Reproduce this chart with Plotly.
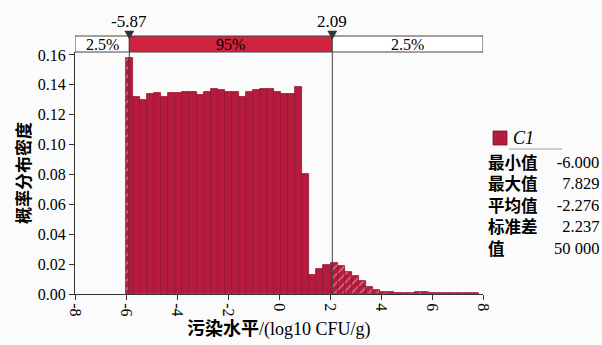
import plotly.graph_objects as go

# ---- data ----
density = [0.158, 0.132, 0.130, 0.134, 0.1345, 0.132, 0.1345, 0.1345, 0.1355, 0.1355,
           0.1335, 0.1355, 0.137, 0.1365, 0.135, 0.135, 0.132, 0.1355, 0.1365, 0.1375,
           0.137, 0.1355, 0.134, 0.134, 0.1388, 0.080, 0.0125, 0.0168, 0.0197, 0.021,
           0.019, 0.0149, 0.0119, 0.0088, 0.0045, 0.0027, 0.0016, 0.0011, 0.0009, 0.0008,
           0.0009, 0.0012, 0.0012, 0.0009, 0.0008, 0.0008, 0.0008, 0.0007, 0.0007, 0.0006]
cut_low, cut_high = -5.87, 2.09
pct_labels = ["2.5%", "95%", "2.5%"]
stat_names = ["最小值", "最大值", "平均值", "标准差", "值"]
stat_values = ["-6.000", "7.829", "-2.276", "2.237", "50 000"]
stat_min, stat_max = -6.000, 7.829
series_name = "C1"
x_ticks = [-8, -6, -4, -2, 0, 2, 4, 6, 8]
y_ticks = [0.00, 0.02, 0.04, 0.06, 0.08, 0.10, 0.12, 0.14, 0.16]

# ---- split bins into inside / outside the 95% interval ----
n = len(density)
w = (stat_max - stat_min) / n
in_x, in_w, in_y, out_x, out_w, out_y = [], [], [], [], [], []
for k, d in enumerate(density):
    a, b = stat_min + k * w, stat_min + (k + 1) * w
    pts = sorted(set([a, b] + [c for c in (cut_low, cut_high) if a < c < b]))
    for s0, s1 in zip(pts[:-1], pts[1:]):
        mid = (s0 + s1) / 2
        if cut_low <= mid <= cut_high:
            in_x.append(mid); in_w.append(s1 - s0); in_y.append(d)
        else:
            out_x.append(mid); out_w.append(s1 - s0); out_y.append(d)

BAR = "#b51b3c"
EDGE = "#98152f"
SERIF = "Liberation Serif, Noto Sans CJK SC"
fig = go.Figure()
fig.add_trace(go.Bar(x=in_x, y=in_y, width=in_w, marker=dict(color=BAR, line=dict(color=EDGE, width=0.8)),
                     showlegend=False))
fig.add_trace(go.Bar(x=out_x, y=out_y, width=out_w,
                     marker=dict(color=BAR, line=dict(color=EDGE, width=0.8),
                                 pattern=dict(shape="/", fgcolor="#f4c9d2", size=6, solidity=0.25)),
                     showlegend=False))

L, R, T, B = 75, 119, 52, 51
PW, PH = 602 - L - R, 345 - T - B
def px(x): return (x - L) / PW
def py(y): return (345 - B - y) / PH

shapes = []
# percent box
box_y0, box_y1 = py(52), py(36)
for x0, x1, col in [(-8, cut_low, "white"), (cut_low, cut_high, "#d0233f"), (cut_high, 8, "white")]:
    shapes.append(dict(type="rect", xref="x", yref="paper", x0=x0, x1=x1, y0=box_y0, y1=box_y1,
                       fillcolor=col, line=dict(color="#444", width=1), layer="above"))
# cutoff lines and triangles
tw = 4.5 / (PW / 16)
for c in (cut_low, cut_high):
    shapes.append(dict(type="line", xref="x", yref="paper", x0=c, x1=c, y0=0, y1=box_y0,
                       line=dict(color="#444", width=1), layer="above"))
    shapes.append(dict(type="path", xref="x", yref="paper",
                       path=f"M {c-tw},{py(31)} L {c+tw},{py(31)} L {c},{py(39)} Z",
                       fillcolor="#333", line=dict(color="#333", width=0.5), layer="above"))
# legend square and underline
shapes.append(dict(type="rect", xref="paper", yref="paper", x0=px(493), x1=px(507), y0=py(145), y1=py(131),
                   fillcolor=BAR, line=dict(color="#7a1027", width=0.8)))
shapes.append(dict(type="line", xref="paper", yref="paper", x0=px(509), x1=px(562), y0=py(149), y1=py(149),
                   line=dict(color="#999", width=1)))

def A(**kw):
    kw.setdefault("xanchor", "center")
    kw.setdefault("yanchor", "middle")
    kw.setdefault("showarrow", False)
    return kw

ann = []
for c in (cut_low, cut_high):
    ann.append(A(x=c, y=py(22), xref="x", yref="paper", text=f"{c:.2f}",
                 font=dict(family=SERIF, size=17, color="black")))
bounds = [-8, cut_low, cut_high, 8]
for i, t in enumerate(pct_labels):
    ann.append(A(x=(bounds[i] + bounds[i + 1]) / 2, y=py(44), xref="x", yref="paper", text=t,
                 font=dict(family=SERIF, size=16, color="black")))
ann.append(A(x=px(511), y=py(138), xref="paper", yref="paper", text=f"<i>{series_name}</i>",
             xanchor="left", font=dict(family=SERIF, size=18, color="black")))
# stats block: two multi-line annotations
rows_mid = 205
ann.append(A(x=px(486), y=py(rows_mid), xref="paper", yref="paper",
             text="<br>".join(f"<b>{nm}</b>" for nm in stat_names), xanchor="left", align="left",
             font=dict(family="Noto Sans CJK SC", size=16.5, color="black")))
ann.append(A(x=px(601), y=py(rows_mid), xref="paper", yref="paper",
             text="<br>".join(stat_values), xanchor="right", align="right",
             font=dict(family=SERIF, size=16.5, color="black")))
ann.append(A(x=px(22), y=py(173), xref="paper", yref="paper", text="<b>概率分布密度</b>", textangle=-90,
             font=dict(family="Noto Sans CJK SC", size=17, color="black")))
ann.append(A(x=px(279), y=py(329), xref="paper", yref="paper", text="<b>污染水平</b>/(log10 CFU/g)",
             font=dict(family=SERIF, size=18, color="black")))

fig.update_layout(
    width=602, height=345, margin=dict(l=L, r=R, t=T, b=B, autoexpand=False),
    paper_bgcolor="#fbfbfb", plot_bgcolor="#fbfbfb", barmode="overlay", bargap=0,
    shapes=shapes, annotations=ann,
    xaxis=dict(range=[-8, 8], tickvals=x_ticks, ticktext=[str(t) for t in x_ticks], tickangle=90,
               showgrid=False, zeroline=False, showline=True, linecolor="#333", linewidth=1,
               ticks="outside", ticklen=5, tickcolor="#333",
               tickfont=dict(family=SERIF, size=16, color="black")),
    yaxis=dict(range=[0, PH / 1494], tickvals=y_ticks,
               ticktext=[f"{t:.2f}" for t in y_ticks],
               showgrid=False, zeroline=False, showline=True, linecolor="#333", linewidth=1,
               ticks="outside", ticklen=5, tickcolor="#333",
               tickfont=dict(family=SERIF, size=16, color="black")),
)
fig.write_html("out.html", config={"displayModeBar": False},
               post_script="document.body.style.margin='0';document.body.style.overflow='hidden';")
